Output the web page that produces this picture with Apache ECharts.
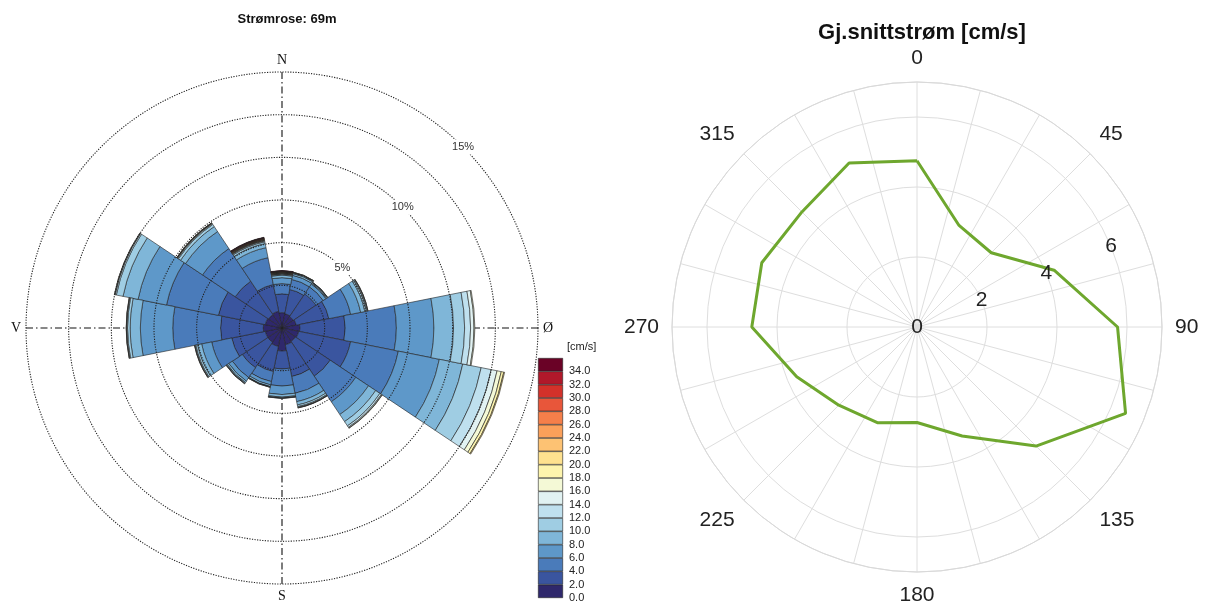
<!DOCTYPE html>
<html>
<head>
<meta charset="utf-8">
<script src="https://cdn.jsdelivr.net/npm/echarts@6/dist/echarts.min.js"></script>
<style>
html,body{margin:0;padding:0;background:#fff;}
#chart{width:1208px;height:606px;}
</style>
</head>
<body>
<div id="chart"></div>
<script>
// 16 sectors, clockwise from north
let directions = ['N','NNE','NE','ENE','E','ESE','SE','SSE','S','SSW','SW','WSW','W','WNW','NW','NNW'];

// frequency [%] per speed bin, one value per direction
let bin00 = [0.90,0.85,0.80,0.85,1.05,1.00,0.95,1.00,1.35,1.10,1.00,1.00,1.10,1.00,0.95,1.00];
let bin02 = [1.10,1.45,1.60,1.95,2.65,3.10,2.45,1.90,1.05,1.50,1.80,2.00,2.50,2.80,2.35,1.60];
let bin04 = [0.60,0.60,0.50,1.30,3.00,2.85,1.80,1.00,1.00,0.60,0.70,1.20,2.80,3.10,2.30,1.60];
let bin06 = [0.35,0.25,0.20,0.60,2.20,2.45,0.90,0.50,0.50,0.20,0.25,0.60,1.90,1.70,1.20,0.60];
let bin08 = [0.15,0.10,0.05,0.25,1.15,1.40,0.50,0.20,0.15,0.10,0.10,0.25,0.60,0.90,0.35,0.25];
let bin10 = [0.05,0.05,0.05,0.10,0.65,1.10,0.30,0.10,0.05,0.02,0.05,0.10,0.15,0.40,0.15,0.10];
let bin12 = [0.03,0.02,0.02,0.05,0.35,0.60,0.10,0.05,0.02,0.02,0.03,0.05,0.05,0.07,0.05,0.05];
let bin14 = [0.02,0.01,0.01,0.03,0.20,0.35,0.05,0.02,0.01,0.01,0.01,0.02,0.02,0.03,0.03,0.03];
let bin16 = [0.02,0.01,0,0.01,0.05,0.25,0.02,0.01,0,0,0,0.01,0.01,0.02,0.02,0.02];
let bin18 = [0.02,0,0,0,0,0.15,0,0,0,0,0,0,0,0,0.01,0.02];
let bin20 = [0.02,0,0,0,0,0.05,0,0,0,0,0,0,0,0,0.01,0.02];
let bin22 = [0.02,0,0,0,0,0,0,0,0,0,0,0,0,0,0,0.02];
let bin24 = [0.02,0,0,0,0,0,0,0,0,0,0,0,0,0,0,0.02];
let bin26 = [0.02,0,0,0,0,0,0,0,0,0,0,0,0,0,0,0.02];
let bin28 = [0.01,0,0,0,0,0,0,0,0,0,0,0,0,0,0,0.02];
let bin30 = [0.01,0,0,0,0,0,0,0,0,0,0,0,0,0,0,0.02];
let bin32 = [0.01,0,0,0,0,0,0,0,0,0,0,0,0,0,0,0.01];
let bin34 = [0.02,0,0,0,0,0,0,0,0,0,0,0,0,0,0,0.02];
let bins = [bin00,bin02,bin04,bin06,bin08,bin10,bin12,bin14,bin16,bin18,bin20,bin22,bin24,bin26,bin28,bin30,bin32,bin34];

let binNames = ['0-2','2-4','4-6','6-8','8-10','10-12','12-14','14-16','16-18','18-20','20-22','22-24','24-26','26-28','28-30','30-32','32-34','>34'];
let binColors = ['#2f286c','#3a559f','#4a7bba','#5e98c9','#7fb6d8','#9fcde3','#bfe0ee','#e1f2f2','#f4f9d6','#fdf4ad','#fee18f','#fdc273','#fba05a','#f57f4a','#e8563a','#d3312a','#b0182a','#6a0226'];
let colorbarTicks = [0,2,4,6,8,10,12,14,16,18,20,22,24,26,28,30,32,34];

// mean current [cm/s] per direction (deg)
let meanAngles = [0,22.5,45,67.5,90,112.5,135,157.5,180,202.5,225,247.5,270,292.5,315,337.5,360];
let meanSpeed = [4.75,3.14,3.00,4.24,5.73,6.45,4.81,3.37,2.73,2.96,3.16,3.72,4.72,4.80,4.65,5.07,4.75];
let markerPoint = [3.27, 101];

let myChart = echarts.init(document.getElementById('chart'));
let sans = 'Liberation Sans, Arial, sans-serif';
let hidden = {show:false};

let series = [];
// rose sectors
for (let i = 0; i < bins.length; i++) {
    series.push({
        name: binNames[i],
        type: 'bar',
        coordinateSystem: 'polar',
        polarIndex: 0,
        stack: 'rose',
        barCategoryGap: '0%',
        silent: true,
        data: bins[i].map(function (v) {
            return v > 0 ? v : {value: 0, itemStyle: {borderWidth: 0}};
        }),
        itemStyle: {color: binColors[i], borderColor: '#222', borderWidth: 0.6}
    });
}
// colour bar
for (let i = 0; i < bins.length; i++) {
    series.push({
        type: 'bar',
        xAxisIndex: 0,
        yAxisIndex: 0,
        stack: 'cb',
        barWidth: '100%',
        silent: true,
        data: [2],
        itemStyle: {color: binColors[i], borderColor: '#222', borderWidth: 0.6}
    });
}
series.push({
    type: 'line',
    coordinateSystem: 'polar',
    polarIndex: 3,
    symbol: 'none',
    lineStyle: {color: '#6ea72e', width: 3},
    data: meanSpeed.map(function (r, i) { return [r, meanAngles[i]]; }),
    z: 5
});
series.push({
    type: 'scatter',
    coordinateSystem: 'polar',
    polarIndex: 3,
    symbol: 'emptyCircle',
    symbolSize: 8,
    itemStyle: {color: '#fff', borderColor: '#cfcfcf', borderWidth: 1},
    data: [markerPoint]
});

let compass = {0: 'N', 90: 'Ø', 180: 'S', 270: 'V'};

let option = {
    backgroundColor: '#fff',
    animation: false,
    title: [{
        text: 'Strømrose: 69m',
        left: 282, top: 8, textAlign: 'center',
        textStyle: {fontFamily: sans, fontSize: 13, fontWeight: 'bold', color: '#111'}
    }, {
        text: 'Gj.snittstrøm [cm/s]',
        left: 917, top: 17, textAlign: 'center',
        textStyle: {fontFamily: sans, fontSize: 22, fontWeight: 'bold', color: '#111'}
    }],
    polar: [
        {center: [282, 328], radius: 256},
        {center: [282, 328], radius: 256},
        {center: [282, 328], radius: 256},
        {center: [917, 327], radius: 245},
        {center: [917, 327], radius: 245}
    ],
    angleAxis: [{
        polarIndex: 0, type: 'category', data: directions,
        startAngle: 101.25, clockwise: true,
        axisLine: hidden, axisTick: hidden, axisLabel: hidden, splitLine: hidden
    }, {
        polarIndex: 1, type: 'value', min: 0, max: 360, interval: 90,
        startAngle: 90, clockwise: true,
        axisLine: hidden, axisTick: hidden,
        axisLabel: {
            margin: 5,
            fontFamily: 'Liberation Serif, DejaVu Serif, serif', fontSize: 14, color: '#111',
            formatter: function (v) { return compass[v] || ''; }
        },
        splitLine: {show: true, lineStyle: {color: '#111', width: 1.1, type: [7, 3, 1.5, 3]}}
    }, {
        polarIndex: 2, type: 'value', min: 0, max: 360, startAngle: 45, clockwise: true,
        axisLine: hidden, axisTick: hidden, axisLabel: hidden, splitLine: hidden
    }, {
        polarIndex: 3, type: 'value', min: 0, max: 360, interval: 15,
        startAngle: 90, clockwise: true,
        axisLine: {show: true, lineStyle: {color: '#d9d9d9', width: 1}},
        axisTick: hidden,
        axisLabel: {
            margin: 13, fontFamily: sans, fontSize: 21, color: '#222',
            formatter: function (v) { return (v % 45 === 0 && v < 360) ? String(v) : ''; }
        },
        splitLine: {show: true, lineStyle: {color: '#dedede', width: 1}}
    }, {
        polarIndex: 4, type: 'value', min: 0, max: 360, startAngle: 22.5, clockwise: true,
        axisLine: hidden, axisTick: hidden, axisLabel: hidden, splitLine: hidden
    }],
    radiusAxis: [{
        polarIndex: 0, min: 0, max: 15,
        axisLine: hidden, axisTick: hidden, axisLabel: hidden, splitLine: hidden
    }, {
        polarIndex: 1, min: 0, max: 15, interval: 2.5, z: 10,
        axisLine: hidden, axisTick: hidden, axisLabel: hidden,
        splitLine: {show: true, lineStyle: {color: '#222', width: 1.1, type: [1.2, 1.4]}}
    }, {
        polarIndex: 2, min: 0, max: 15, interval: 5, z: 12,
        axisLine: hidden, axisTick: hidden, splitLine: hidden,
        axisLabel: {
            margin: 0, align: 'center', verticalAlign: 'middle', showMinLabel: false,
            fontFamily: sans, fontSize: 11, color: '#333',
            backgroundColor: '#fff', padding: [2, 2],
            formatter: function (v) { return v + '%'; }
        }
    }, {
        polarIndex: 3, min: 0, max: 7, interval: 2,
        axisLine: hidden, axisTick: hidden, axisLabel: hidden,
        splitLine: {show: true, lineStyle: {color: '#dedede', width: 1}}
    }, {
        polarIndex: 4, min: 0, max: 7, interval: 2, z: 12,
        axisLine: hidden, axisTick: hidden, splitLine: hidden,
        axisLabel: {
            margin: 0, align: 'center', verticalAlign: 'middle',
            fontFamily: sans, fontSize: 21, color: '#222',
            formatter: function (v) { return v < 7 ? String(v) : ''; }
        }
    }],
    grid: [{left: 538, top: 358, width: 25, height: 240}],
    xAxis: [{
        type: 'category', data: ['cb'], gridIndex: 0,
        axisLine: hidden, axisTick: hidden, axisLabel: hidden, splitLine: hidden
    }],
    yAxis: [{
        type: 'value', gridIndex: 0, position: 'right', min: 0, max: 36, interval: 2,
        name: '[cm/s]', nameGap: 6,
        nameTextStyle: {fontFamily: sans, fontSize: 11, color: '#222', align: 'left', padding: [0, 0, 0, 4]},
        axisLine: hidden, axisTick: hidden, splitLine: hidden,
        axisLabel: {
            margin: 6, fontFamily: sans, fontSize: 11, color: '#222',
            formatter: function (v) { return colorbarTicks.indexOf(v) >= 0 ? v.toFixed(1) : ''; }
        }
    }],
    series: series
};
myChart.setOption(option);
</script>
</body>
</html>
